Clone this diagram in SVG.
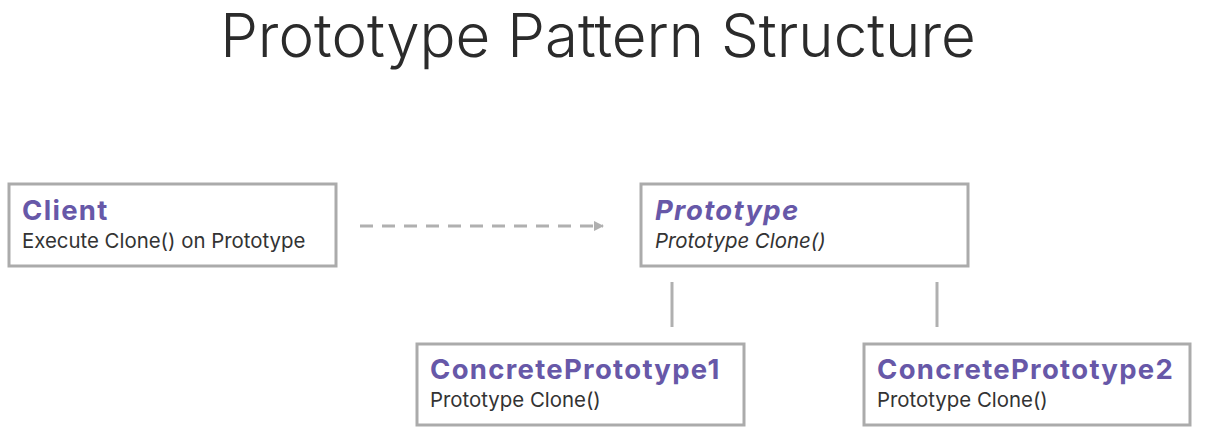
<svg xmlns="http://www.w3.org/2000/svg" width="1211" height="438" viewBox="0 0 1211 438">
<defs>
<style>
.box{fill:#fff;stroke:#ababab;stroke-width:3}
.name{font-family:Inter,"Noto Sans",sans-serif;font-weight:700;font-size:27.5px;letter-spacing:1.3px;fill:#6758a8}
.op{font-family:Inter,"Noto Sans",sans-serif;font-weight:400;font-size:20.4px;fill:#333}
.it{font-style:italic}
.conn{stroke:#b0b0b0;stroke-width:3;fill:none}
</style>
<marker id="arr" viewBox="0 0 10 10" refX="9" refY="5" markerWidth="3.5" markerHeight="3.5" orient="auto" markerUnits="strokeWidth">
<path d="M0,0 L10,5 L0,10 z" fill="#b0b0b0"/>
</marker>
</defs>
<rect width="1211" height="438" fill="#fff"/>
<text x="598" y="57" text-anchor="middle" font-family="Inter,'Noto Sans',sans-serif" font-weight="300" font-size="60" fill="#2b2b2b">Prototype Pattern Structure</text>
<g id="connectors">
<line class="conn" x1="360" y1="226" x2="603" y2="226" stroke-dasharray="13,9" marker-end="url(#arr)"/>
<line class="conn" x1="672" y1="282" x2="672" y2="327"/>
<line class="conn" x1="937" y1="282" x2="937" y2="327"/>
</g>
<g id="client">
<rect class="box" x="9" y="184" width="327" height="82"/>
<text class="name" x="22" y="220">Client</text>
<text class="op" x="22" y="248">Execute Clone() on Prototype</text>
</g>
<g id="prototype">
<rect class="box" x="641" y="184" width="327" height="82"/>
<text class="name it" x="655" y="220">Prototype</text>
<text class="op it" x="655" y="248">Prototype Clone()</text>
</g>
<g id="concrete1">
<rect class="box" x="417" y="344" width="327" height="81"/>
<text class="name" x="430" y="379">ConcretePrototype1</text>
<text class="op" x="430" y="407">Prototype Clone()</text>
</g>
<g id="concrete2">
<rect class="box" x="864" y="344" width="326" height="81"/>
<text class="name" x="877" y="379">ConcretePrototype2</text>
<text class="op" x="877" y="407">Prototype Clone()</text>
</g>
</svg>
